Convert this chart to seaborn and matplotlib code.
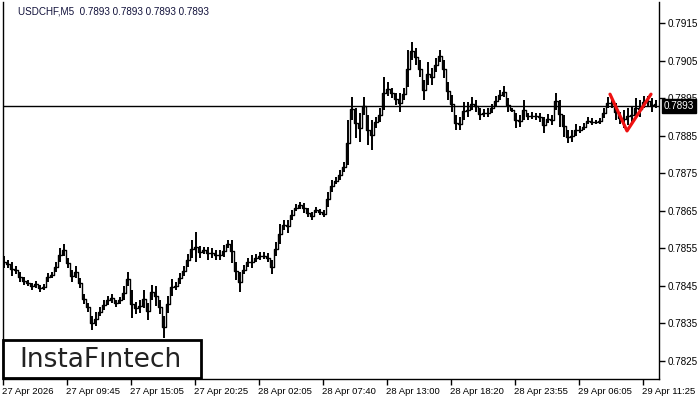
import numpy as np
import matplotlib
matplotlib.use("Agg")
import matplotlib.pyplot as plt
import matplotlib.transforms as mtransforms
from matplotlib.patches import Rectangle
import seaborn as sns
import pandas as pd

symbol_title = "USDCHF,M5  0.7893 0.7893 0.7893 0.7893"
last_price = 0.7893

highs = [0.78529, 0.78519, 0.78513, 0.78503, 0.78487, 0.78473, 0.78465, 0.78457, 0.78463, 0.78452,
         0.78455, 0.78484, 0.78487, 0.78513, 0.78551, 0.78561, 0.78524, 0.78492, 0.78503, 0.78471,
         0.78428, 0.78404, 0.78369, 0.78380, 0.78393, 0.78412, 0.78423, 0.78428, 0.78412, 0.78420,
         0.78449, 0.78487, 0.78439, 0.78407, 0.78412, 0.78439, 0.78404, 0.78452, 0.78449, 0.78412,
         0.78369, 0.78423, 0.78468, 0.78460, 0.78484, 0.78503, 0.78535, 0.78572, 0.78593, 0.78556,
         0.78553, 0.78553, 0.78551, 0.78545, 0.78545, 0.78559, 0.78572, 0.78572, 0.78513, 0.78487,
         0.78505, 0.78524, 0.78532, 0.78535, 0.78540, 0.78540, 0.78537, 0.78519, 0.78567, 0.78615,
         0.78625, 0.78625, 0.78652, 0.78668, 0.78673, 0.78671, 0.78657, 0.78647, 0.78660, 0.78655,
         0.78652, 0.78700, 0.78732, 0.78740, 0.78759, 0.78780, 0.78892, 0.78953, 0.78924, 0.78911,
         0.78953, 0.78905, 0.78892, 0.78900, 0.78924, 0.79007, 0.78993, 0.78977, 0.78964, 0.78964,
         0.78977, 0.79079, 0.79100, 0.79084, 0.79052, 0.78999, 0.79047, 0.79031, 0.79057, 0.79079,
         0.79052, 0.78993, 0.78959, 0.78905, 0.78900, 0.78940, 0.78940, 0.78953, 0.78945, 0.78924,
         0.78921, 0.78924, 0.78935, 0.78956, 0.78972, 0.78983, 0.78951, 0.78924, 0.78911, 0.78905,
         0.78945, 0.78911, 0.78913, 0.78911, 0.78911, 0.78900, 0.78908, 0.78905, 0.78964, 0.78945,
         0.78905, 0.78865, 0.78865, 0.78881, 0.78876, 0.78884, 0.78900, 0.78897, 0.78892, 0.78897,
         0.78924, 0.78953, 0.78951, 0.78937, 0.78913, 0.78919, 0.78924, 0.78929, 0.78951, 0.78945,
         0.78956, 0.78956, 0.78951, 0.78945]

lows = [0.78497, 0.78497, 0.78476, 0.78481, 0.78460, 0.78452, 0.78449, 0.78439, 0.78444, 0.78433,
        0.78439, 0.78460, 0.78471, 0.78487, 0.78513, 0.78529, 0.78497, 0.78460, 0.78471, 0.78444,
        0.78401, 0.78380, 0.78332, 0.78343, 0.78369, 0.78385, 0.78399, 0.78404, 0.78393, 0.78401,
        0.78412, 0.78449, 0.78364, 0.78375, 0.78377, 0.78391, 0.78359, 0.78412, 0.78396, 0.78375,
        0.78311, 0.78377, 0.78423, 0.78439, 0.78455, 0.78476, 0.78500, 0.78524, 0.78513, 0.78524,
        0.78535, 0.78519, 0.78524, 0.78519, 0.78519, 0.78527, 0.78551, 0.78511, 0.78465, 0.78433,
        0.78481, 0.78500, 0.78497, 0.78513, 0.78519, 0.78521, 0.78513, 0.78481, 0.78529, 0.78561,
        0.78599, 0.78591, 0.78625, 0.78649, 0.78655, 0.78644, 0.78633, 0.78625, 0.78644, 0.78639,
        0.78633, 0.78660, 0.78700, 0.78721, 0.78732, 0.78753, 0.78772, 0.78892, 0.78844, 0.78833,
        0.78905, 0.78825, 0.78812, 0.78871, 0.78887, 0.78919, 0.78956, 0.78951, 0.78932, 0.78913,
        0.78945, 0.78980, 0.79052, 0.79039, 0.79007, 0.78945, 0.78985, 0.78985, 0.79020, 0.79047,
        0.79004, 0.78945, 0.78913, 0.78865, 0.78865, 0.78892, 0.78900, 0.78919, 0.78913, 0.78892,
        0.78900, 0.78900, 0.78911, 0.78929, 0.78945, 0.78953, 0.78913, 0.78913, 0.78871, 0.78873,
        0.78892, 0.78892, 0.78895, 0.78892, 0.78887, 0.78857, 0.78884, 0.78879, 0.78919, 0.78873,
        0.78847, 0.78831, 0.78833, 0.78849, 0.78857, 0.78865, 0.78881, 0.78879, 0.78881, 0.78881,
        0.78897, 0.78924, 0.78924, 0.78892, 0.78881, 0.78871, 0.78879, 0.78884, 0.78897, 0.78900,
        0.78924, 0.78927, 0.78913, 0.78924]

time_labels = ["27 Apr 2026", "27 Apr 09:45", "27 Apr 15:05", "27 Apr 20:25", "28 Apr 02:05",
               "28 Apr 07:40", "28 Apr 13:00", "28 Apr 18:20", "28 Apr 23:55", "29 Apr 06:05",
               "29 Apr 11:25"]
price_ticks = [0.7825, 0.7835, 0.7845, 0.7855, 0.7865, 0.7875, 0.7885, 0.7895, 0.7905, 0.7915]

pattern_x = [151.5, 155.75, 161.75]
pattern_y = [0.78961, 0.78863, 0.78961]

sns.set_style("white")
plt.rcParams['font.family'] = ['Liberation Sans', 'DejaVu Sans']

W, H = 700, 400
FS = 6.8
FSY = 7.1
fig = plt.figure(figsize=(7, 4), dpi=100)
fig.patch.set_facecolor("white")
ax = fig.add_axes([3 / W, 21 / H, 656 / W, 377 / H])
ax.set_facecolor("white")

hi = np.array(highs)
lo = np.array(lows)
idx = np.arange(len(hi))
mid = (hi + lo) / 2

ax.vlines(idx, lo, hi, color="black", lw=1.4, zorder=3)
ax.step(idx, mid, where="mid", color="black", lw=1.0, zorder=3)

# current price line
ax.axhline(last_price, color="black", lw=1.0, zorder=2)

# pattern
pat = pd.DataFrame({"x": pattern_x, "y": pattern_y})
sns.lineplot(data=pat, x="x", y="y", ax=ax, color="#ee1111", lw=2.3, zorder=5, sort=False)

ax.set_xlim(-0.25, 163.75)
ax.set_ylim(0.78201, 0.79207)

ax.yaxis.tick_right()
ax.set_yticks(price_ticks)
ax.set_yticklabels([f"{p:.4f}" for p in price_ticks])
xt = [-0.25 + 16 * k for k in range(len(time_labels))]
ax.set_xticks(xt)
ax.set_xticklabels(time_labels, ha="left")
ax.tick_params(axis="y", which="both", direction="out", length=4, width=1, pad=2,
               labelsize=FSY, colors="black", right=True, left=False)
ax.tick_params(axis="x", which="both", direction="out", length=4, width=1, pad=2,
               labelsize=FS, colors="black", bottom=True)
for lab in ax.get_xticklabels():
    lab.set_transform(lab.get_transform() + mtransforms.ScaledTranslation(-1 / 100, 0, fig.dpi_scale_trans))
ax.set_xlabel("")
ax.set_ylabel("")

for s in ["left", "right", "bottom"]:
    ax.spines[s].set_visible(True)
    ax.spines[s].set_color("black")
    ax.spines[s].set_linewidth(1.0)
ax.spines["top"].set_visible(False)
ax.grid(False)

# title
fig.text(18 / W, 1 - 11 / H, symbol_title, fontsize=FSY, color="#10103a", va="center", ha="left")

# price label on the right axis
ax.annotate(f"{last_price:.4f}", xy=(1.0, last_price), xycoords=("axes fraction", "data"),
            xytext=(3.5, 0), textcoords="offset points", fontsize=FSY, color="white",
            va="center", ha="left", zorder=20, annotation_clip=False,
            bbox=dict(boxstyle="square,pad=0.2", fc="black", ec="black"))

# logo
fig.add_artist(Rectangle((3 / W, 22 / H), 198 / W, 38 / H, transform=fig.transFigure,
                         facecolor="white", edgecolor="black", lw=2, zorder=10))
fig.text(101 / W, 1 - 360 / H, "InstaF\u0131ntech", fontsize=19, color="#222222",
         family=["DejaVu Sans"], ha="center", va="center", zorder=11)

fig.savefig("out.png", dpi=100, facecolor="white")
